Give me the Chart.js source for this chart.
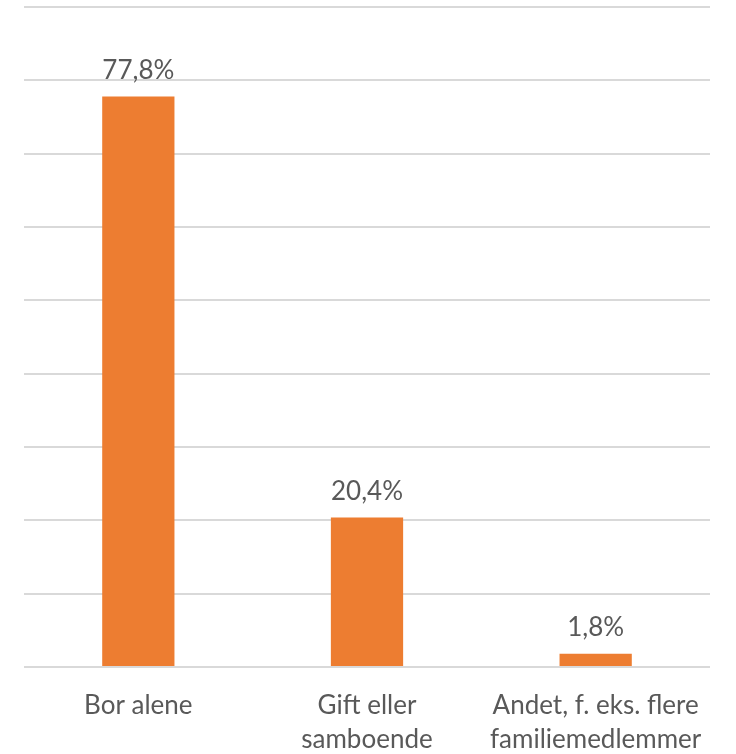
<!DOCTYPE html>
<html>
<head>
<meta charset="utf-8">
<script src="https://cdn.jsdelivr.net/npm/chart.js@4"></script>
<style>
  html, body { margin: 0; padding: 0; background: #fff; }
  #wrap { width: 736px; height: 754px; }
</style>
</head>
<body>
<div id="wrap"><canvas id="myChart" width="736" height="754"></canvas></div>
<script>
const categories = [
  "Bor alene",
  ["Gift eller", "samboende"],
  ["Andet, f. eks. flere", "familiemedlemmer"],
];
const values = [77.8, 20.4, 1.8];
const valueLabels = ["77,8%", "20,4%", "1,8%"];

const fontFamily = "Lato, 'Open Sans', sans-serif";

// tegner procent-tal over hver søjle
const barLabels = {
  id: "barLabels",
  afterDatasetsDraw(chart) {
    const ctx = chart.ctx;
    const meta = chart.getDatasetMeta(0);
    ctx.save();
    ctx.font = "26px " + fontFamily;
    ctx.fillStyle = "#595959";
    ctx.textAlign = "center";
    ctx.textBaseline = "bottom";
    meta.data.forEach((bar, i) => {
      ctx.fillText(valueLabels[i], bar.x, bar.y - 13);
    });
    ctx.restore();
  },
};

const ctx = document.getElementById("myChart").getContext("2d");
new Chart(ctx, {
  type: "bar",
  data: {
    labels: categories,
    datasets: [
      {
        data: values,
        backgroundColor: "#ED7D31",
        categoryPercentage: 1,
        barPercentage: 0.316,
      },
    ],
  },
  options: {
    responsive: false,
    animation: false,
    layout: { padding: { top: 7, left: 24, right: 26, bottom: 0 } },
    plugins: {
      legend: { display: false },
      tooltip: { enabled: false },
    },
    scales: {
      x: {
        grid: { display: false },
        border: { display: false },
        ticks: {
          autoSkip: false,
          maxRotation: 0,
          padding: 14,
          color: "#595959",
          font: { family: fontFamily, size: 26, lineHeight: 1.3 },
        },
        afterFit(scale) {
          scale.height = 87;
        },
      },
      y: {
        min: 0,
        max: 90,
        ticks: { display: false, stepSize: 10 },
        border: { display: false },
        grid: { color: "#D9D9D9", lineWidth: 2, drawTicks: false },
        afterFit(scale) {
          scale.width = 0;
        },
      },
    },
  },
  plugins: [barLabels],
});
</script>
</body>
</html>
